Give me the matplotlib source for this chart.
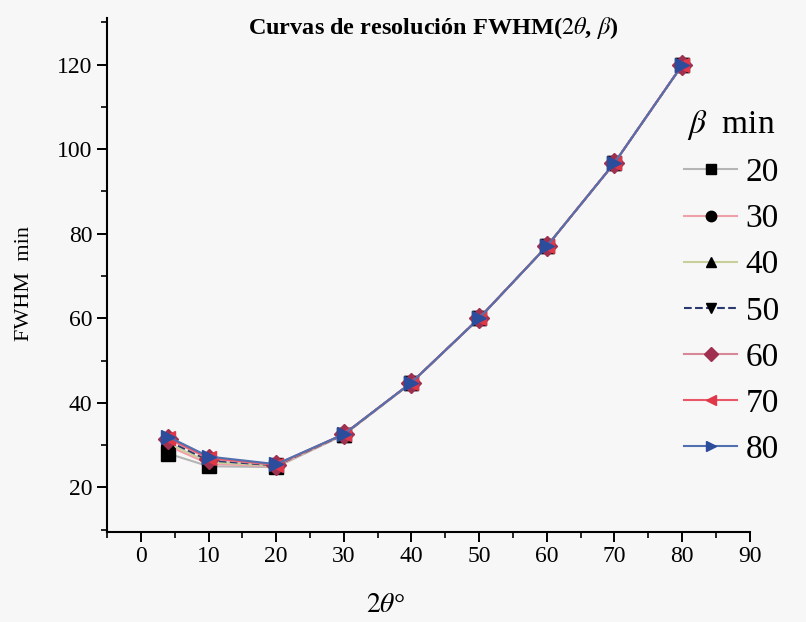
import numpy as np
import matplotlib.pyplot as plt
from matplotlib.ticker import MultipleLocator

plt.rcParams['font.family'] = ['Liberation Serif', 'DejaVu Serif']
plt.rcParams['mathtext.fontset'] = 'stix'

two_theta = [4, 10, 20, 30, 40, 50, 60, 70, 80]
beta_labels = ['20', '30', '40', '50', '60', '70', '80']
fwhm_b20 = [28.0, 25.0, 24.8, 32.4, 44.7, 60.0, 77.0, 96.7, 119.8]
fwhm_b30 = [29.8, 25.6, 25.0, 32.5, 44.8, 60.0, 77.0, 96.7, 119.8]
fwhm_b40 = [30.4, 26.0, 25.1, 32.5, 44.8, 60.0, 77.0, 96.7, 119.8]
fwhm_b50 = [31.0, 26.4, 25.2, 32.5, 44.8, 60.0, 77.0, 96.7, 119.8]
fwhm_b60 = [31.5, 26.8, 25.3, 32.6, 44.8, 60.0, 77.0, 96.7, 119.8]
fwhm_b70 = [31.8, 27.0, 25.4, 32.6, 44.8, 60.0, 77.0, 96.7, 119.8]
fwhm_b80 = [32.0, 27.3, 25.5, 32.6, 44.8, 60.0, 77.0, 96.7, 119.8]
series = [fwhm_b20, fwhm_b30, fwhm_b40, fwhm_b50, fwhm_b60, fwhm_b70, fwhm_b80]

line_colors = ['#b5b5b5', '#f0a0a8', '#c9cf9a', '#2a3a70', '#d88898', '#e85868', '#5070b0']
marker_colors = ['black', 'black', 'black', 'black', '#a03050', '#e03848', '#2c4c9c']
markers = ['s', 'o', '^', 'v', 'D', '<', '>']
styles = ['-', '-', '-', '--', '-', '-', '-']

fig = plt.figure(figsize=(8.06, 6.22), dpi=100, facecolor='#f7f7f7')
ax = fig.add_axes([0.133, 0.145, 0.797, 0.826])
ax.set_facecolor('none')

for vals, lab, lc, mc, m, ls in zip(series, beta_labels, line_colors, marker_colors, markers, styles):
    ax.plot(two_theta, vals, linestyle=ls, color=lc, lw=1.5, marker=m, ms=10,
            mfc=mc, mec=mc, label=lab)

ax.set_xlim(-5, 90)
ax.set_ylim(9.5, 131)
ax.xaxis.set_major_locator(MultipleLocator(10))
ax.xaxis.set_minor_locator(MultipleLocator(5))
ax.yaxis.set_major_locator(MultipleLocator(20))
ax.yaxis.set_minor_locator(MultipleLocator(10))
ax.spines['top'].set_visible(False)
ax.spines['right'].set_visible(False)
for s in ['left', 'bottom']:
    ax.spines[s].set_linewidth(1.5)
ax.tick_params(which='major', direction='out', length=7, width=1.4, labelsize=17)
ax.tick_params(which='minor', direction='out', length=4, width=1.2)

fig.text(0.538, 0.955, r'Curvas de resolución FWHM($\mathit{2\theta}$, $\mathit{\beta}$)',
         fontsize=17.5, fontweight='bold', ha='center', va='center')
fig.text(0.478, 0.027, r'$\mathit{2\theta}$°', fontsize=20, ha='center', va='center')
fig.text(0.031, 0.545, 'FWHM  min', fontsize=16, rotation=90, ha='center', va='center')

leg = fig.legend(*ax.get_legend_handles_labels(), title=r'$\mathit{\beta}$  min',
                 loc='upper left', bbox_to_anchor=(0.832, 0.848), frameon=False,
                 fontsize=24, title_fontsize=24, handlelength=1.6, handletextpad=0.25,
                 labelspacing=0.47, borderaxespad=0.0, markerscale=0.75)

fig.savefig('out.png', dpi=100, facecolor=fig.get_facecolor())
